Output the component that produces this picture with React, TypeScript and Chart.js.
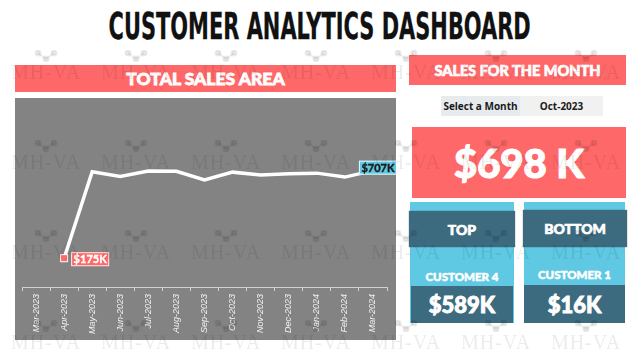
import React, { useEffect, useLayoutEffect, useRef } from 'react';
import { Chart, registerables } from 'chart.js';

Chart.register(...registerables);

// ---- data ----
const months = [
  'Mar-2023', 'Apr-2023', 'May-2023', 'Jun-2023', 'Jul-2023', 'Aug-2023', 'Sep-2023',
  'Oct-2023', 'Nov-2023', 'Dec-2023', 'Jan-2024', 'Feb-2024', 'Mar-2024',
];
const salesK: (number | null)[] = [null, 175, 700, 672, 705, 703, 650, 698, 680, 688, 692, 668, 707];
const selectedMonth = 'Oct-2023';
const monthSales = '$698 K';
const topCustomer = 'CUSTOMER 4';
const topValue = '$589K';
const bottomCustomer = 'CUSTOMER 1';
const bottomValue = '$16K';
const watermarkCols = [46, 136, 226, 316, 406, 496, 586];
const watermarkRows = [74, 164, 254, 344];

// ---- styles ----
const PINK = '#ff6868';
const LIGHTBLUE = '#5fc8e2';
const DARK = '#3c6a7f';
const PANEL = '#838383';
const HEAD_FONT = 'Lato, "Open Sans", sans-serif';

const labelPlugin = {
  id: 'endLabels',
  afterDatasetsDraw(chart: any) {
    const meta = chart.getDatasetMeta(0);
    const data = chart.data.datasets[0].data as (number | null)[];
    let first = -1;
    let last = -1;
    data.forEach((v, i) => {
      if (v != null) {
        if (first < 0) first = i;
        last = i;
      }
    });
    const ctx = chart.ctx;
    const draw = (i: number, bg: string, fg: string, dx: number, dy: number, alignLeft: boolean) => {
      const el = meta.data[i];
      const txt = `$${data[i]}K`;
      ctx.save();
      ctx.font = `bold 11px ${HEAD_FONT}`;
      const w = ctx.measureText(txt).width + 5;
      const h = 14;
      const x = alignLeft ? el.x + dx : el.x + dx - w / 2;
      const y = el.y + dy - h / 2;
      ctx.fillStyle = bg;
      ctx.fillRect(x, y, w, h);
      ctx.strokeStyle = 'rgba(255,255,255,0.85)';
      ctx.lineWidth = 1;
      ctx.strokeRect(x + 0.5, y + 0.5, w - 1, h - 1);
      ctx.fillStyle = fg;
      ctx.strokeStyle = fg;
      ctx.lineWidth = 0.4;
      ctx.textBaseline = 'middle';
      ctx.textAlign = 'left';
      ctx.fillText(txt, x + 2.5, y + h / 2 + 0.5);
      ctx.strokeText(txt, x + 2.5, y + h / 2 + 0.5);
      ctx.restore();
    };
    if (first >= 0) draw(first, PINK, '#ffffff', 7, 1, true);
    if (last >= 0 && last !== first) draw(last, LIGHTBLUE, '#1b1b1b', 5, -3, false);
  },
};

function SalesChart() {
  const ref = useRef<HTMLCanvasElement | null>(null);
  useEffect(() => {
    if (!ref.current) return;
    const firstIdx = salesK.findIndex((v) => v != null);
    const chart = new Chart(ref.current, {
      type: 'line',
      data: {
        labels: months,
        datasets: [
          {
            data: salesK,
            borderColor: '#ffffff',
            borderWidth: 3.5,
            tension: 0,
            pointStyle: 'rect',
            pointRadius: (c: any) => (c.dataIndex === firstIdx ? 5 : 0),
            pointBackgroundColor: PINK,
            pointBorderColor: '#ffffff',
            pointBorderWidth: 1,
          },
        ],
      },
      options: {
        animation: false,
        responsive: false,
        maintainAspectRatio: false,
        layout: { padding: { top: 8, left: 7, right: 9, bottom: 0 } },
        plugins: { legend: { display: false }, tooltip: { enabled: false } },
        scales: {
          x: {
            offset: true,
            grid: { offset: true, drawOnChartArea: false, color: '#d0d0d0', tickLength: 4 },
            border: { color: '#d0d0d0' },
            ticks: {
              color: '#f2f2f2',
              font: { size: 9, style: 'italic', family: '"Liberation Sans", Arial, sans-serif' },
              minRotation: 90,
              maxRotation: 90,
              padding: 3,
            },
            afterFit: (s: any) => {
              s.height = 53;
            },
          },
          y: { display: false, min: 0, max: 1100 },
        },
      },
      plugins: [labelPlugin],
    } as any);
    return () => chart.destroy();
  }, []);
  return <canvas ref={ref} width={381} height={242} style={{ width: 381, height: 242, display: 'block' }} />;
}

function FitTitle({ text, width }: { text: string; width: number }) {
  const ref = useRef<HTMLSpanElement | null>(null);
  useLayoutEffect(() => {
    const el = ref.current;
    if (!el) return;
    const w = el.offsetWidth;
    if (w > 0) el.style.transform = `scale(${width / w}, 1)`;
  }, [text, width]);
  return (
    <span
      ref={ref}
      style={{
        display: 'inline-block',
        transformOrigin: 'center center',
        whiteSpace: 'nowrap',
        fontFamily: '"DejaVu Sans Condensed", "Liberation Sans Narrow", sans-serif',
        fontWeight: 700,
        fontSize: 38,
        lineHeight: '38px',
        color: '#111',
        WebkitTextStroke: '0.3px #111',
      }}
    >
      {text}
    </span>
  );
}

const abs = (l: number, t: number, w: number, h: number, extra: React.CSSProperties = {}): React.CSSProperties => ({
  position: 'absolute',
  left: l,
  top: t,
  width: w,
  height: h,
  ...extra,
});

const centerText = (size: number, color = '#fff', weight = 900, stroke = 0.6): React.CSSProperties => ({
  display: 'flex',
  alignItems: 'center',
  justifyContent: 'center',
  fontFamily: HEAD_FONT,
  fontWeight: weight,
  fontSize: size,
  color,
  whiteSpace: 'nowrap',
  WebkitTextStroke: stroke ? `${stroke}px ${color}` : undefined,
});

function Watermarks() {
  const items: React.ReactNode[] = [];
  watermarkRows.forEach((r, ri) =>
    watermarkCols.forEach((c, ci) => {
      items.push(
        <div key={`${ri}-${ci}`} style={abs(c - 40, r - 24, 80, 40, { textAlign: 'center' })}>
          <svg width="24" height="12" viewBox="0 0 24 12" style={{ display: 'block', margin: '0 auto' }}>
            <g fill="rgba(0,0,0,0.07)" stroke="rgba(0,0,0,0.07)" strokeWidth="2">
              <line x1="4" y1="3" x2="12" y2="9" />
              <line x1="20" y1="3" x2="12" y2="9" />
              <circle cx="4" cy="3" r="2.5" />
              <circle cx="20" cy="3" r="2.5" />
              <circle cx="12" cy="9" r="2.5" />
            </g>
          </svg>
          <div
            style={{
              fontFamily: '"Liberation Serif", "DejaVu Serif", serif',
              fontSize: 20,
              lineHeight: '20px',
              letterSpacing: 1,
              color: 'rgba(0,0,0,0.08)',
            }}
          >
            MH-VA
          </div>
        </div>
      );
    })
  );
  return <div style={abs(0, 0, 639, 359, { pointerEvents: 'none', zIndex: 10 })}>{items}</div>;
}

export default function App() {
  return (
    <div style={abs(0, 0, 639, 359, { background: '#fff', overflow: 'hidden' })}>
      {/* title */}
      <div style={abs(0, 7, 639, 38, { display: 'flex', justifyContent: 'center', alignItems: 'center' })}>
        <FitTitle text="CUSTOMER ANALYTICS DASHBOARD" width={422} />
      </div>

      {/* left panel */}
      <div style={{ ...abs(15, 65, 381, 27, { background: PINK }), ...centerText(17.5, '#fff', 900, 0.8) }}>TOTAL SALES AREA</div>
      <div style={abs(15, 98, 381, 242, { background: PANEL })}>
        <SalesChart />
      </div>

      {/* right panel */}
      <div style={{ ...abs(409, 55, 217, 30, { background: PINK }), ...centerText(14.5, '#fff', 900, 0.7) }}>SALES FOR THE MONTH</div>
      <div style={{ ...abs(441, 96, 79, 20, { background: '#e8ebee' }), ...centerText(10, '#1a1a1a', 700, 0), fontFamily: '"Open Sans", sans-serif' }}>
        Select a Month
      </div>
      <div style={{ ...abs(520, 96, 83, 20, { background: '#f1f1f1' }), ...centerText(10, '#1a1a1a', 700, 0), fontFamily: '"Open Sans", sans-serif' }}>
        {selectedMonth}
      </div>
      <div style={{ ...abs(412, 127, 214, 71, { background: PINK }), ...centerText(40, '#fff', 900, 1.2) }}>{monthSales}</div>

      {/* top card */}
      <div style={abs(410, 202, 104, 121, { background: LIGHTBLUE })} />
      <div style={{ ...abs(409, 211, 106, 36, { background: DARK, boxShadow: '0 0 1px rgba(0,0,0,0.6)' }), ...centerText(14, '#fff', 900, 0.7) }}>TOP</div>
      <div style={{ ...abs(410, 266, 104, 20), ...centerText(11.5, '#fff', 900, 0.5) }}>{topCustomer}</div>
      <div style={{ ...abs(411, 286, 102, 37, { background: DARK }), ...centerText(22, '#fff', 900, 0.9) }}>{topValue}</div>

      {/* bottom card */}
      <div style={abs(524, 202, 101, 121, { background: LIGHTBLUE })} />
      <div style={{ ...abs(523, 210, 104, 37, { background: DARK, boxShadow: '0 0 1px rgba(0,0,0,0.6)' }), ...centerText(14, '#fff', 900, 0.7) }}>BOTTOM</div>
      <div style={{ ...abs(524, 264, 101, 20), ...centerText(11.5, '#fff', 900, 0.5) }}>{bottomCustomer}</div>
      <div style={{ ...abs(524, 285, 101, 38, { background: DARK }), ...centerText(22, '#fff', 900, 0.9) }}>{bottomValue}</div>

      <Watermarks />
    </div>
  );
}
